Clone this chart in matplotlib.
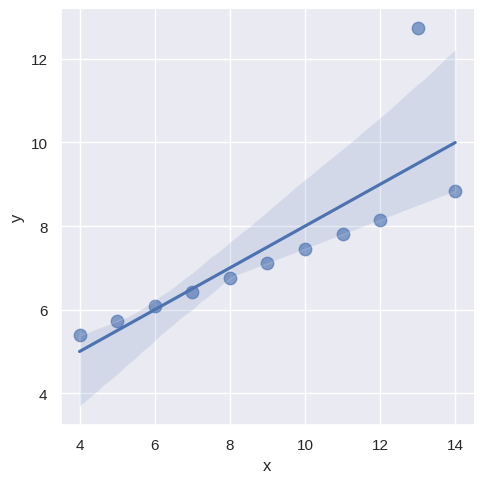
import numpy as np
import pandas as pd
import seaborn as sns
import matplotlib
matplotlib.use("Agg")
import matplotlib.pyplot as plt

# Anscombe dataset III
x = [10, 8, 13, 9, 11, 14, 6, 4, 12, 7, 5]
y = [7.46, 6.77, 12.74, 7.11, 7.81, 8.84, 6.08, 5.39, 8.15, 6.42, 5.73]

sns.set_theme()
plt.rcParams['font.family'] = ['Liberation Sans', 'DejaVu Sans']

df = pd.DataFrame({"x": x, "y": y})

g = sns.lmplot(x="x", y="y", data=df, height=5, seed=3,
               scatter_kws={"s": 80, "alpha": 0.65})

g.ax.set_yticks([4, 6, 8, 10, 12])
g.ax.set_xticks([4, 6, 8, 10, 12, 14])

g.savefig("out.png", dpi=100, bbox_inches="tight")
